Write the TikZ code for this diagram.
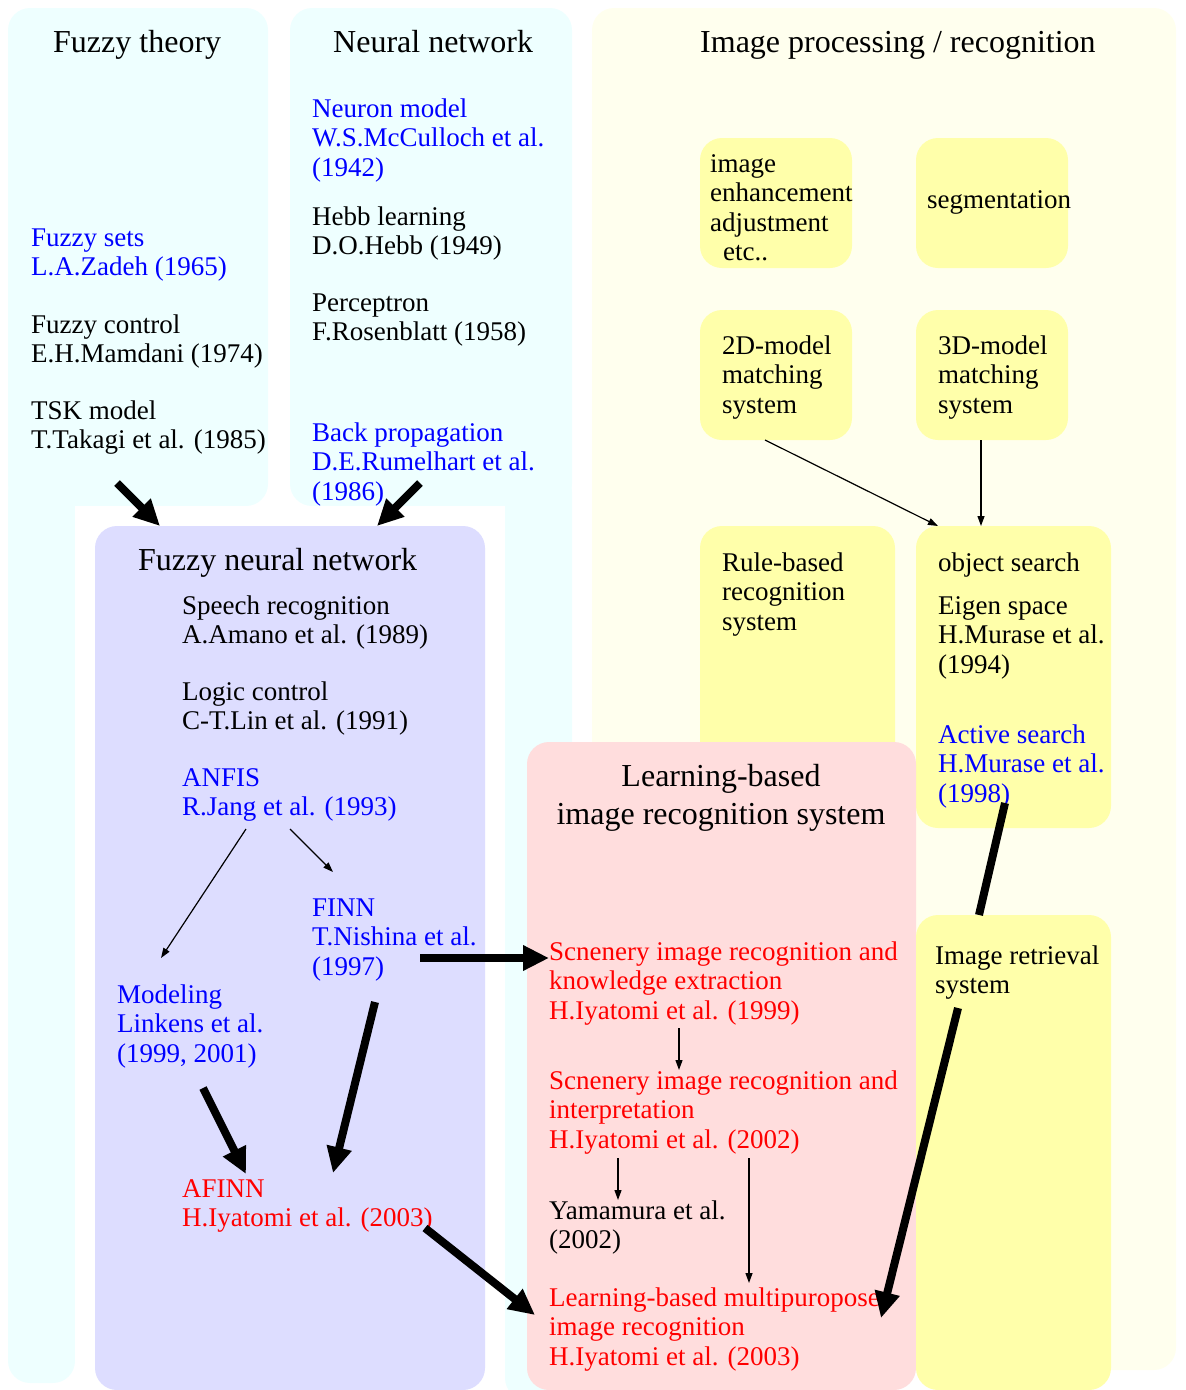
\documentclass[tikz,border=0pt]{standalone}
\usepackage{fontspec}
\setmainfont{Liberation Serif}
\usetikzlibrary{arrows.meta,calc}
\definecolor{panelcyan}{HTML}{EEFFFF}
\definecolor{panelcream}{HTML}{FFFFEE}
\definecolor{fnnblue}{HTML}{DDDDFF}
\definecolor{learnpink}{HTML}{FFDDDD}
\definecolor{boxyellow}{HTML}{FFFFAA}
% stacked lines whose baseline is the first line
\newcommand{\lns}[1]{\begin{tabular}[t]{@{}l@{}}#1\end{tabular}}
\newcommand{\clns}[1]{\begin{tabular}[t]{@{}c@{}}#1\end{tabular}}

\begin{document}
\begin{tikzpicture}[x=1pt,y=-1pt,
  area/.style={fill=#1, draw=none, rounded corners=22pt, inner sep=0pt, outer sep=0pt, anchor=north west},
  entry/.style={font=\fontsize{27}{29.5}\selectfont, anchor=base west, inner sep=0pt},
  heading/.style={font=\fontsize{32}{38}\selectfont, anchor=base west, inner sep=0pt},
  bold arrow/.style={line width=8pt, -{Triangle[length=26pt,width=24pt]}},
  bold line/.style={line width=8pt},
  thin arrow/.style={line width=1.2pt, -{Triangle[length=10pt,width=7pt]}}]

\useasboundingbox (0,0) rectangle (1186,1390);

% ---- background columns ----
\node[area=panelcyan, minimum width=67pt, minimum height=913pt] (leftstrip) at (8,470) {};
\node[area=panelcyan, minimum width=67pt, minimum height=930pt] (rightstrip) at (505,470) {};
\node[area=panelcyan, minimum width=260pt, minimum height=498pt] (fuzzycol) at (8,8) {};
\node[area=panelcyan, minimum width=282pt, minimum height=498pt] (neuralcol) at (290,8) {};
\fill[white] (75,506) rectangle (505,1390);
\node[area=panelcream, minimum width=584pt, minimum height=1362pt] (imagecol) at (592,8) {};

% ---- image processing boxes ----
\node[area=boxyellow, minimum width=152pt, minimum height=130pt] (enhbox) at (700,138) {};
\node[area=boxyellow, minimum width=152pt, minimum height=130pt] (segbox) at (916,138) {};
\node[area=boxyellow, minimum width=152pt, minimum height=130pt] (twodbox) at (700,310) {};
\node[area=boxyellow, minimum width=152pt, minimum height=130pt] (threedbox) at (916,310) {};
\node[area=boxyellow, minimum width=195pt, minimum height=280pt] (rulebox) at (700,526) {};
\node[area=boxyellow, minimum width=195pt, minimum height=302pt] (searchbox) at (916,526) {};

% ---- fuzzy neural network and learning-based system ----
\node[area=fnnblue, minimum width=390pt, minimum height=864pt] (fnnbox) at (95,526) {};
\node[area=learnpink, minimum width=389pt, minimum height=648pt] (learnbox) at (527,742) {};
\node[area=boxyellow, minimum width=195pt, minimum height=475pt] (retrievalbox) at (916,915) {};

% ---- headings ----
\node[heading] (fuzzytitle) at (53,52) {Fuzzy theory};
\node[heading] (neuraltitle) at (333,52) {Neural network};
\node[heading] (imagetitle) at (700,52) {Image processing / recognition};
\node[heading] (fnntitle) at (138,570) {Fuzzy neural network};
\node[heading, anchor=base] (learntitle) at (721,786) {\clns{Learning-based\\image recognition system}};

% ---- fuzzy theory ----
\node[entry, text=blue] (fuzzysets) at (31,246) {\lns{Fuzzy sets\\L.A.Zadeh (1965)}};
\node[entry] (fuzzycontrol) at (31,333) {\lns{Fuzzy control\\E.H.Mamdani (1974)}};
\node[entry] (tsk) at (31,419) {\lns{TSK model\\T.Takagi et al. (1985)}};

% ---- neural network ----
\node[entry, text=blue] (neuron) at (312,117) {\lns{Neuron model\\W.S.McCulloch et al.\\(1942)}};
\node[entry] (hebb) at (312,225) {\lns{Hebb learning\\D.O.Hebb (1949)}};
\node[entry] (perceptron) at (312,311) {\lns{Perceptron\\F.Rosenblatt (1958)}};
\node[entry, text=blue] (backprop) at (312,441) {\lns{Back propagation\\D.E.Rumelhart et al.\\(1986)}};

% ---- image processing ----
\node[entry] (enhtext) at (710,172) {\lns{image\\enhancement\\adjustment\\\hspace*{13pt}etc..}};
\node[entry] (segtext) at (927,208) {segmentation};
\node[entry] (twodtext) at (722,354) {\lns{2D-model\\matching\\system}};
\node[entry] (threedtext) at (938,354) {\lns{3D-model\\matching\\system}};
\node[entry] (ruletext) at (722,571) {\lns{Rule-based\\recognition\\system}};
\node[entry] (searchtext) at (938,571) {object search};
\node[entry] (eigen) at (938,614) {\lns{Eigen space\\H.Murase et al.\\(1994)}};
\node[entry, text=blue] (active) at (938,743) {\lns{Active search\\H.Murase et al.\\(1998)}};
\node[entry] (retrievaltext) at (935,964) {\lns{Image retrieval\\system}};

% ---- fuzzy neural network entries ----
\node[entry] (speech) at (182,614) {\lns{Speech recognition\\A.Amano et al. (1989)}};
\node[entry] (logic) at (182,700) {\lns{Logic control\\C-T.Lin et al. (1991)}};
\node[entry, text=blue] (anfis) at (182,786) {\lns{ANFIS\\R.Jang et al. (1993)}};
\node[entry, text=blue] (finn) at (312,916) {\lns{FINN\\T.Nishina et al.\\(1997)}};
\node[entry, text=blue] (modeling) at (117,1003) {\lns{Modeling\\Linkens et al.\\(1999, 2001)}};
\node[entry, text=red] (afinn) at (182,1197) {\lns{AFINN\\H.Iyatomi et al. (2003)}};

% ---- learning-based entries ----
\node[entry, text=red] (scenery1) at (549,960) {\lns{Scnenery image recognition and\\knowledge extraction\\H.Iyatomi et al. (1999)}};
\node[entry, text=red] (scenery2) at (549,1089) {\lns{Scnenery image recognition and\\interpretation\\H.Iyatomi et al. (2002)}};
\node[entry] (yamamura) at (549,1219) {\lns{Yamamura et al.\\(2002)}};
\node[entry, text=red] (multi) at (549,1306) {\lns{Learning-based multipuropose\\image recognition\\H.Iyatomi et al. (2003)}};

% ---- thin connectors ----
\draw[thin arrow] ($(twodbox.south west)+(65,0)$) -- ($(searchbox.north west)+(22,0)$);
\draw[thin arrow] ($(threedbox.south west)+(65,0)$) -- ($(searchbox.north west)+(65,0)$);
\draw[thin arrow] ($(anfis.base west)+(64,43)$) -- ($(modeling.base west)+(44,-45)$);
\draw[thin arrow] ($(anfis.base west)+(108,43)$) -- ($(finn.base west)+(21,-44)$);
\draw[thin arrow] ($(scenery1.base west)+(130,68)$) -- ($(scenery2.base west)+(130,-19)$);
\draw[thin arrow] ($(scenery2.base west)+(69,69)$) -- ($(yamamura.base west)+(69,-19)$);
\draw[thin arrow] ($(scenery2.base west)+(200,69)$) -- ($(multi.base west)+(200,-23)$);

% ---- bold connectors ----
\draw[bold arrow] ($(fuzzycol.south west)+(109,-23)$) -- ($(fnnbox.north west)+(65,0)$);
\draw[bold arrow] ($(neuralcol.south west)+(130,-23)$) -- ($(fnnbox.north west)+(282,0)$);
\draw[bold arrow] ($(finn.base west)+(108,42)$) -- ($(scenery1.base west)+(0,-2)$);
\draw[bold arrow] ($(finn.base west)+(63,86)$) -- ($(afinn.base west)+(151,-24)$);
\draw[bold arrow] ($(modeling.base west)+(86,85)$) -- ($(afinn.base west)+(64,-23)$);
\draw[bold arrow] ($(afinn.base west)+(243,31)$) -- ($(multi.base west)+(-14,9)$);
\draw[bold line] ($(active.base west)+(67,60)$) -- ($(retrievalbox.north west)+(63,0)$);
\draw[bold arrow] ($(retrievaltext.base west)+(23,44)$) -- ($(multi.base west)+(332,12)$);

\end{tikzpicture}
\end{document}
